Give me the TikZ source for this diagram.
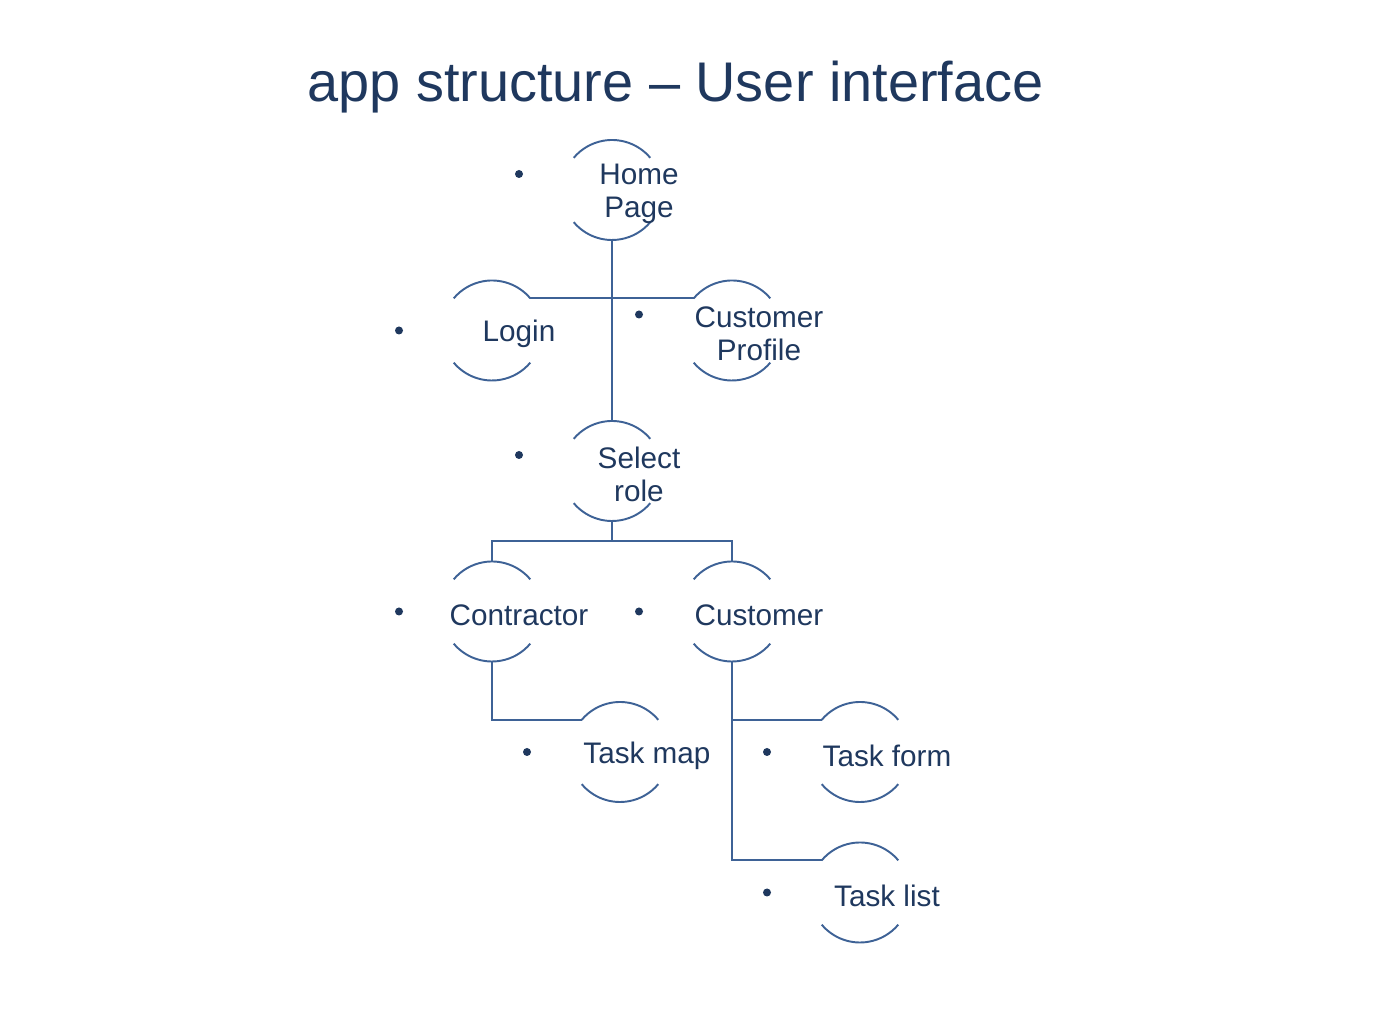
\documentclass[tikz,border=0pt]{standalone}
\usepackage{fontspec}
\setmainfont{Liberation Sans}
\usetikzlibrary{calc}
\definecolor{navy}{RGB}{31,56,94}
\definecolor{linkblue}{RGB}{62,98,150}
\tikzset{
  box/.style={circle,minimum size=2cm,inner sep=0pt,outer sep=0pt},
  lbl/.style={text=navy,font=\fontsize{16.9}{18.7}\selectfont,align=center,
    yshift=-0.07cm},
  dot/.style={circle,fill=navy,minimum size=0.16cm,inner sep=0pt},
  link/.style={draw=linkblue,line width=1.1pt},
}

\begin{document}
\begin{tikzpicture}
\useasboundingbox (0,0) rectangle (27.56,20.52);
\node[text=navy,font=\fontsize{31.8}{36}\selectfont,anchor=base] (title)
  at (13.51,18.48) {app structure -- User interface};
% pages
\foreach \n/\x/\y in {home/12.24/16.72,login/9.84/13.91,cprof/14.64/13.91,
  select/12.24/11.10,contr/9.84/8.29,cust/14.64/8.29,
  tmap/12.40/5.48,tform/17.20/5.48,tlist/17.20/2.67}
  \node[box] (\n) at (\x,\y) {};
\foreach \n in {home,login,cprof,select,contr,cust,tmap,tform,tlist}{
  \draw[link] (\n.40) arc (40:140:1cm);
  \draw[link] (\n.220) arc (220:320:1cm);
}
\node[lbl] (homet) at ([xshift=0.54cm]home) {Home\\Page};
\node[lbl] (logint) at ([xshift=0.54cm]login) {Login};
\node[lbl] (cproft) at ([xshift=0.54cm]cprof) {Customer\\Profile};
\node[lbl] (selectt) at ([xshift=0.54cm]select) {Select\\role};
\node[lbl] (contrt) at ([xshift=0.54cm]contr) {Contractor};
\node[lbl] (custt) at ([xshift=0.54cm]cust) {Customer};
\node[lbl] (tmapt) at ([xshift=0.54cm]tmap) {Task map};
\node[lbl] (tformt) at ([xshift=0.54cm]tform) {Task form};
\node[lbl] (tlistt) at ([xshift=0.54cm]tlist) {Task list};
% bullets
\foreach \n/\dy in {home/0.32,login/0,cprof/0.32,select/0.32,contr/0,
  cust/0,tmap/0,tform/0,tlist/0}
  \node[dot] (\n d) at ([shift={(-1.86,\dy)}]\n) {};
% links
\draw[link] (home.south) -- (select.north);
\draw[link] (home.south) |- (login.40);
\draw[link] (home.south) |- (cprof.140);
\draw[link] (select.south) -- ++(0,-0.4) -| (contr.north);
\draw[link] (select.south) -- ++(0,-0.4) -| (cust.north);
\draw[link] (contr.south) |- (tmap.140);
\draw[link] (cust.south) |- (tform.140);
\draw[link] (cust.south) |- (tlist.140);
\end{tikzpicture}
\end{document}
